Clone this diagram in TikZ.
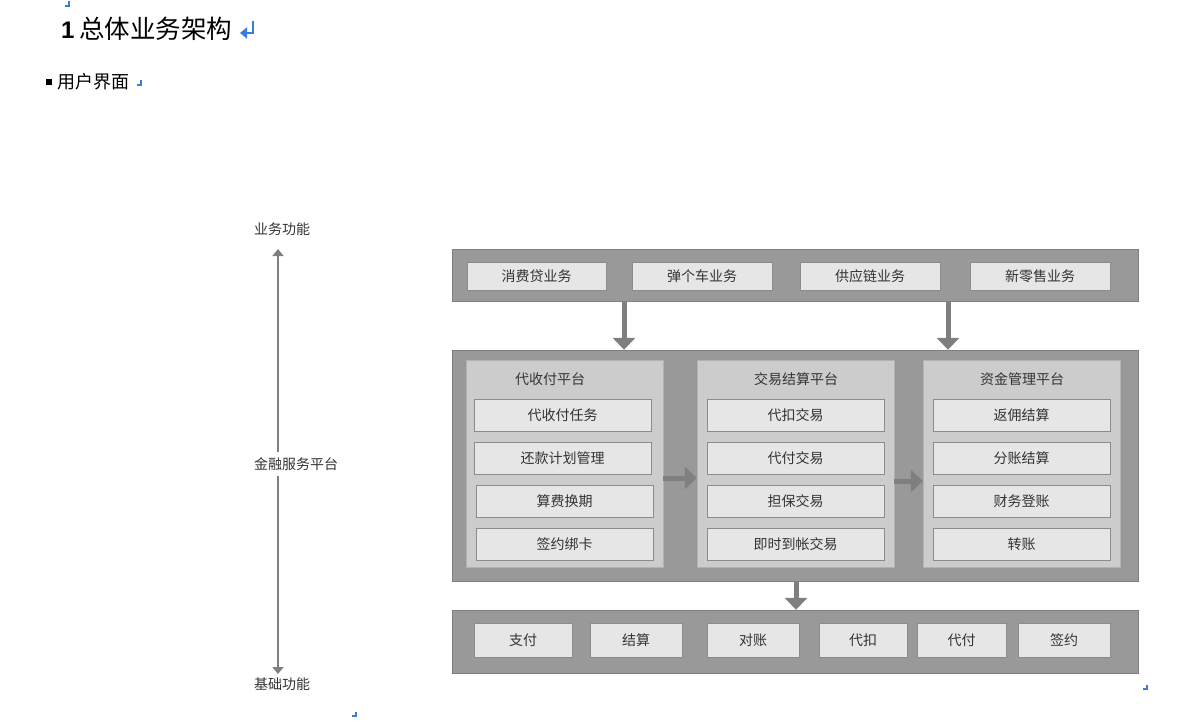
\documentclass[tikz,border=0pt]{standalone}
\usepackage{fontspec}
\setmainfont{Noto Sans CJK SC}
\newfontfamily\arialfont{Liberation Sans}
\usetikzlibrary{arrows.meta, positioning}

\definecolor{panelgray}{HTML}{999999}
\definecolor{subgray}{HTML}{CCCCCC}
\definecolor{boxgray}{HTML}{E6E6E6}
\definecolor{linegray}{HTML}{7F7F7F}
\definecolor{textgray}{HTML}{333333}
\definecolor{markblue}{HTML}{3A7BE0}

\tikzset{
    panel/.style={draw=linegray, fill=panelgray, minimum width=686pt, inner sep=0pt},
    subpanel/.style={draw=linegray!60, fill=subgray, minimum width=197pt, minimum height=207pt, inner sep=0pt},
    funcbox/.style={draw=linegray!90, fill=boxgray, inner sep=0pt, text=textgray,
        font=\fontsize{14}{16}\selectfont},
    innerbox/.style={funcbox, minimum width=177pt, minimum height=32pt},
    paneltitle/.style={text=textgray, font=\fontsize{14}{16}\selectfont},
    axislabel/.style={text=textgray, font=\fontsize{14}{16}\selectfont, inner sep=5pt},
    flowarrow/.style={draw=linegray, line width=5pt, -{Triangle[width=22pt,length=12pt]}},
    axisarrow/.style={draw=linegray, line width=2pt, -{Triangle[width=11pt,length=7pt]}},
    editmark/.style={draw=markblue, line width=2.8pt}
}

\begin{document}
\begin{tikzpicture}[x=1pt, y=-1pt]
    \useasboundingbox (0,0) rectangle (1198,726);

    % Heading and subheading
    \node[anchor=west, inner sep=0pt, font=\arialfont\bfseries\fontsize{24}{26}\selectfont] (num) at (61,30) {1};
    \node[anchor=west, inner sep=0pt, font=\fontsize{25.5}{27}\selectfont] (title) at (79,29) {总体业务架构};
    \fill (46,79) rectangle (52,85);
    \node[anchor=west, inner sep=0pt, font=\fontsize{18}{20}\selectfont] (sub) at (57,82) {用户界面};

    % Editor marks
    \draw[editmark] (69,1) -- (69,6) -- (65,6);
    \draw[editmark, -{Triangle[width=11pt,length=7pt]}] (253,21) -- (253,33) -- (240,33);
    \draw[editmark] (141,80) -- (141,85) -- (137,85);
    \draw[editmark] (1147,685) -- (1147,689) -- (1143,689);
    \draw[editmark] (356,712) -- (356,716) -- (352,716);

    % Vertical axis on the left
    \node[axislabel] (axtoplabel) at (282,229) {业务功能};
    \node[axislabel] (axmid) at (296,464) {金融服务平台};
    \node[axislabel] (axbotlabel) at (282,684) {基础功能};
    \coordinate (axtop) at (278,249);
    \coordinate (axbot) at (278,674);
    \draw[axisarrow] (axmid.north -| axtop) -- (axtop);
    \draw[axisarrow] (axmid.south -| axbot) -- (axbot);

    % Business layer
    \node[panel, minimum height=52pt] (business) at (795,275) {};
    \node[funcbox, minimum width=139pt, minimum height=28pt] (loan) at (536.5,276) {消费贷业务};
    \node[funcbox, minimum width=140pt, minimum height=28pt] (car) at (702,276) {弹个车业务};
    \node[funcbox, minimum width=140pt, minimum height=28pt] (chain) at (870,276) {供应链业务};
    \node[funcbox, minimum width=140pt, minimum height=28pt] (retail) at (1040,276) {新零售业务};

    % Financial service platform
    \node[panel, minimum height=231pt] (platform) at (795,465.5) {};

    \node[subpanel] (collect) at (564.5,463.5) {};
    \node[paneltitle] at (550,379) {代收付平台};
    \node[innerbox] (c1) at (562.5,415) {代收付任务};
    \node[innerbox] (c2) at (562.5,458) {还款计划管理};
    \node[innerbox] (c3) at (564.5,501) {算费换期};
    \node[innerbox] (c4) at (564.5,544) {签约绑卡};

    \node[subpanel] (trade) at (795.5,463.5) {};
    \node[paneltitle] at (796,379) {交易结算平台};
    \node[innerbox] (t1) at (795.5,415) {代扣交易};
    \node[innerbox] (t2) at (795.5,458) {代付交易};
    \node[innerbox] (t3) at (795.5,501) {担保交易};
    \node[innerbox] (t4) at (795.5,544) {即时到帐交易};

    \node[subpanel] (fund) at (1021.5,463.5) {};
    \node[paneltitle] at (1022,379) {资金管理平台};
    \node[innerbox] (f1) at (1021.5,415) {返佣结算};
    \node[innerbox] (f2) at (1021.5,458) {分账结算};
    \node[innerbox] (f3) at (1021.5,501) {财务登账};
    \node[innerbox] (f4) at (1021.5,544) {转账};

    % Base functions
    \node[panel, minimum height=63pt] (base) at (795,641.5) {};
    \node[funcbox, minimum width=98pt, minimum height=34pt] (pay) at (523,640) {支付};
    \node[funcbox, minimum width=92pt, minimum height=34pt] (settle) at (636,640) {结算};
    \node[funcbox, minimum width=92pt, minimum height=34pt] (recon) at (753,640) {对账};
    \node[funcbox, minimum width=88pt, minimum height=34pt] (deduct) at (863,640) {代扣};
    \node[funcbox, minimum width=89pt, minimum height=34pt] (payout) at (961.5,640) {代付};
    \node[funcbox, minimum width=92pt, minimum height=34pt] (sign) at (1064,640) {签约};

    % Flow arrows
    \coordinate (down1) at (624,0);
    \coordinate (down2) at (948,0);
    \coordinate (down3) at (796,0);
    \draw[flowarrow] (business.south -| down1) -- (platform.north -| down1);
    \draw[flowarrow] (business.south -| down2) -- (platform.north -| down2);
    \draw[flowarrow] (collect.east |- 0,478) -- (trade.west |- 0,478);
    \draw[flowarrow] (trade.east |- 0,481) -- (fund.west |- 0,481);
    \draw[flowarrow] (platform.south -| down3) -- (base.north -| down3);
\end{tikzpicture}
\end{document}
